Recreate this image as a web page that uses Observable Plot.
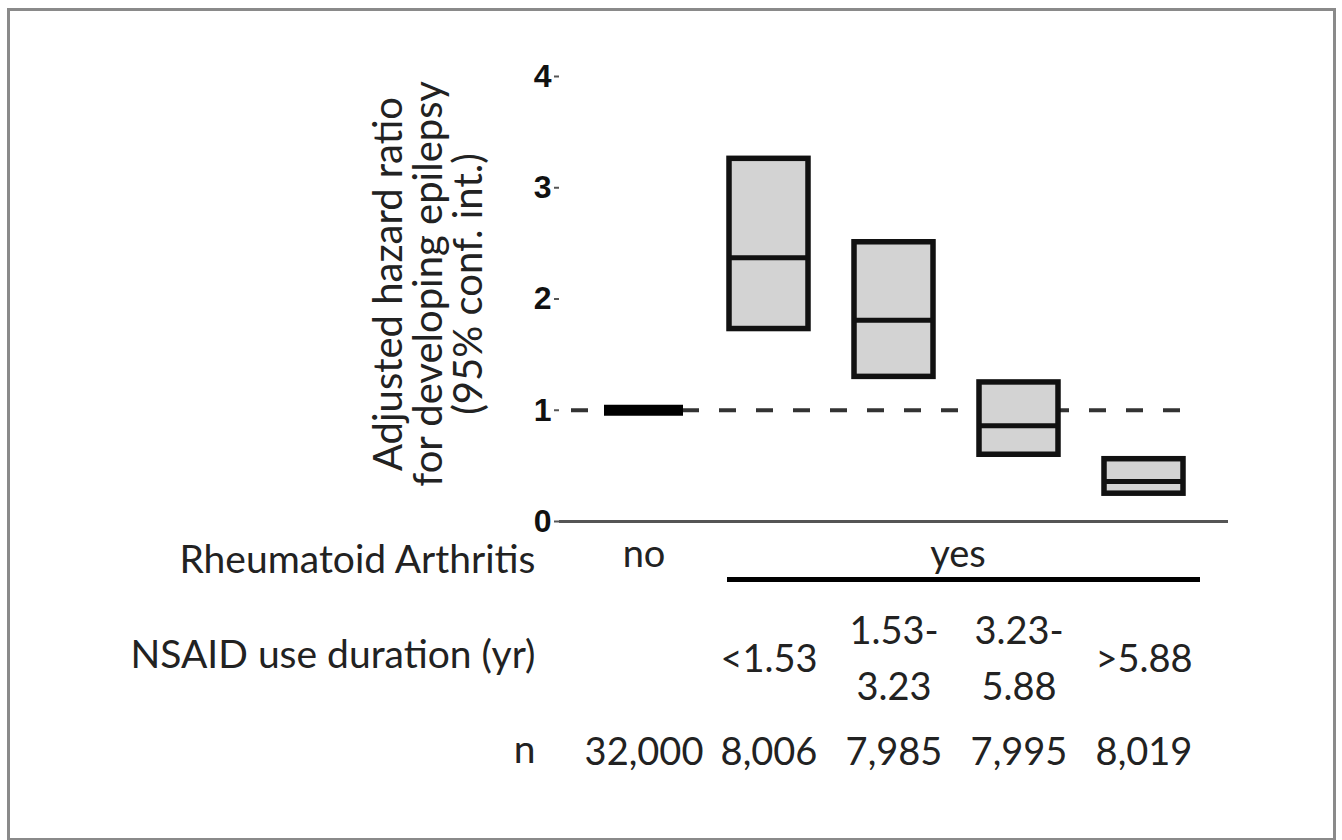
<!DOCTYPE html>
<html>
<head>
<meta charset="utf-8">
<script src="https://cdn.jsdelivr.net/npm/d3@7"></script>
<script src="https://cdn.jsdelivr.net/npm/@observablehq/plot@0.6"></script>
<style>
  html, body { margin: 0; padding: 0; background: #fff; }
  #wrap { position: relative; width: 1342px; height: 840px; overflow: hidden; }
  #border { position: absolute; left: 7px; top: 8px; width: 1323px; height: 827px; border: 3px solid #8a8a8a; box-sizing: content-box; pointer-events: none; }
  #chart { position: absolute; left: 0; top: 0; }
</style>
</head>
<body>
<div id="wrap">
  <div id="chart"></div>
  <div id="border"></div>
</div>
<script>
// ---- data ----
const categories = ["no", "<1.53", "1.53-3.23", "3.23-5.88", ">5.88"];
const durationLabels = ["", "<1.53", "1.53-\n3.23", "3.23-\n5.88", ">5.88"];
const raStatus = ["no", "yes", "yes", "yes", "yes"];
const hazardRatio = [1.00, 2.37, 1.81, 0.86, 0.36];
const ciLower = [1.00, 1.73, 1.30, 0.60, 0.25];
const ciUpper = [1.00, 3.26, 2.51, 1.25, 0.56];
const nValues = ["32,000", "8,006", "7,985", "7,995", "8,019"];
const yTicks = [0, 1, 2, 3, 4];
const referenceValue = 1;
const yTitle = "Adjusted hazard ratio\nfor developing epilepsy\n(95% conf. int.)";
const rowLabelRA = "Rheumatoid Arthritis";
const rowLabelDuration = "NSAID use duration (yr)";
const rowLabelN = "n";

const rows = categories.map((c, i) => ({
  cat: c, dur: durationLabels[i], ra: raStatus[i],
  hr: hazardRatio[i], lo: ciLower[i], hi: ciUpper[i], n: nValues[i]
}));
const exposed = rows.filter(d => d.ra === "yes");
const unexposed = rows.filter(d => d.ra === "no");
const yesSpan = [{ from: exposed[0].cat, to: exposed[exposed.length - 1].cat }];

const FONT = "Lato, 'Open Sans', sans-serif";
const FS = 38;
const W = 1342, H = 840;
const mTop = 76, mBottom = H - 521, mLeft = 559, mRight = W - 1228;

const chart = Plot.plot({
  width: W,
  height: H,
  marginTop: mTop,
  marginBottom: mBottom,
  marginLeft: mLeft,
  marginRight: mRight,
  style: { fontFamily: FONT, background: "transparent", overflow: "visible" },
  x: { type: "band", domain: categories, paddingInner: 0.365, paddingOuter: 0.34, axis: null },
  y: { domain: [0, 4], axis: null },
  marks: [
    // axis lines
    Plot.ruleX([0], { frameAnchor: "left", stroke: "#555", strokeWidth: 3, y1: 0, y2: 4 }),
    Plot.ruleY([0], { stroke: "#555", strokeWidth: 3 }),
    // y ticks + labels
    Plot.axisY({
      ticks: yTicks, tickSize: 5, tickPadding: 3, stroke: "#555", strokeWidth: 2,
      tickFormat: d3.format("d"), fontSize: 32, fontWeight: "bold", fill: "#111",
      fontFamily: "'Liberation Sans', Arial, sans-serif", label: null
    }),
    // reference dashed line
    Plot.ruleY([referenceValue], {
      stroke: "#333", strokeWidth: 4, strokeDasharray: "17,20",
      insetLeft: 12, insetRight: 28
    }),
    // CI boxes
    Plot.barY(exposed, { x: "cat", y1: "lo", y2: "hi", fill: "#d3d3d3", stroke: "#111", strokeWidth: 5.5 }),
    Plot.tickY(exposed, { x: "cat", y: "hr", stroke: "#111", strokeWidth: 5 }),
    // reference group (no RA)
    Plot.tickY(unexposed, { x: "cat", y: "hr", stroke: "#000", strokeWidth: 11 }),
    // y title
    Plot.text([yTitle], {
      frameAnchor: "left", rotate: -90, dx: -130, dy: -15,
      fontSize: 40, lineHeight: 1.0, fill: "#222", textAnchor: "middle", lineAnchor: "middle"
    }),
    // RA row
    Plot.text(unexposed, { x: "cat", text: "ra", frameAnchor: "bottom", dy: 33, fontSize: FS, fill: "#222", lineAnchor: "middle" }),
    Plot.text(exposed.slice(1, 2), { x: "cat", text: "ra", frameAnchor: "bottom", dy: 33, dx: 64, fontSize: FS, fill: "#222", lineAnchor: "middle" }),
    Plot.ruleY(yesSpan, { x1: "from", x2: "to", y: 0, dy: 58, insetLeft: -2, insetRight: -17, stroke: "#000", strokeWidth: 5 }),
    // NSAID duration row
    Plot.text(exposed, { x: "cat", text: "dur", frameAnchor: "bottom", dy: 133, fontSize: FS, fill: "#222", lineAnchor: "middle", lineHeight: 1.47 }),
    // n row
    Plot.text(rows, { x: "cat", text: "n", frameAnchor: "bottom", dy: 231, fontSize: FS, fill: "#222", lineAnchor: "middle" }),
    // row labels
    Plot.text([rowLabelRA], { frameAnchor: "bottom-left", dx: -24, dy: 39, textAnchor: "end", fontSize: 39, fill: "#222", lineAnchor: "middle" }),
    Plot.text([rowLabelDuration], { frameAnchor: "bottom-left", dx: -24, dy: 134, textAnchor: "end", fontSize: 39, fill: "#222", lineAnchor: "middle" }),
    Plot.text([rowLabelN], { frameAnchor: "bottom-left", dx: -24, dy: 229, textAnchor: "end", fontSize: 39, fill: "#222", lineAnchor: "middle" })
  ]
});
document.getElementById("chart").appendChild(chart);
</script>
</body>
</html>
